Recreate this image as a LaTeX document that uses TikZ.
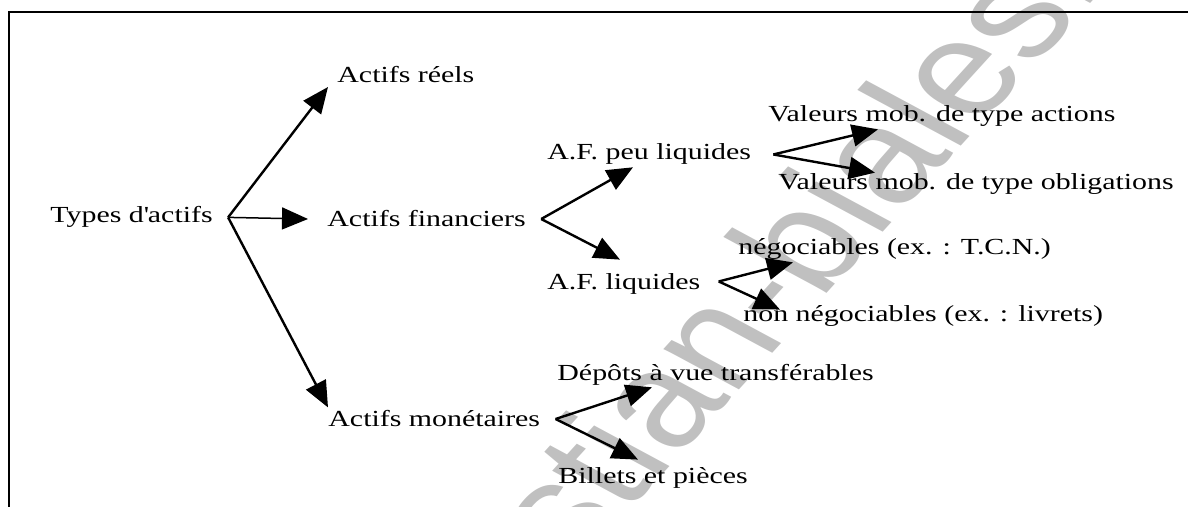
\documentclass[tikz,border=0pt]{standalone}
\usepackage{fontspec}
\setmainfont[FakeStretch=1.3]{Liberation Serif}
\newfontfamily\markfont{Liberation Sans}
\usetikzlibrary{arrows.meta, positioning}
\definecolor{markgray}{RGB}{192, 192, 192}

\begin{document}
\begin{tikzpicture}[
    x=0.5pt, y=-0.5pt,
    item/.style={
        inner sep=0pt,
        anchor=base west,
        font=\fontsize{11.5}{14}\selectfont
    },
    arrow/.style={
        -{Triangle[length=13pt,width=11pt]},
        line width=1.2pt
    },
    frame/.style={
        line width=1pt
    },
    watermark/.style={
        font=\markfont\fontsize{67}{76}\selectfont,
        text=markgray,
        rotate=55,
        transform shape
    }
]

% Page size
\useasboundingbox (0,0) rectangle (1188,507);

% Watermark (stretched like the rest of the page)
\begin{scope}[xscale=1.3]
    \node[watermark] (mark) at (571,303) {christian-biales.fr};
\end{scope}

% Frame
\draw[frame] (9,507) -- (9,12) -- (1188,12);

% First level
\node[item] (types) at (50,223) {Types d\textquotesingle actifs};
\node[item] (reels) at (337,83) {Actifs réels};
\node[item] (financiers) at (327,227) {Actifs financiers};
\node[item] (monetaires) at (328,427) {Actifs monétaires};

% Second level
\node[item] (peu) at (547,160) {A.F. peu liquides};
\node[item] (liquides) at (547,290) {A.F. liquides};
\node[item] (depots) at (557,380) {Dépôts à vue transférables};
\node[item] (billets) at (558,483) {Billets et pièces};

% Third level
\node[item] (actions) at (768,122) {Valeurs mob. de type actions};
\node[item] (obligations) at (778,190) {Valeurs mob. de type obligations};
\node[item] (nego) at (738,255) {négociables (ex. : T.C.N.)};
\node[item] (nonnego) at (743,322) {non négociables (ex. : livrets)};

% Forks
\coordinate (typesfork) at ([xshift=7.5pt]types.east);
\coordinate (finfork) at ([xshift=7.5pt]financiers.east);
\coordinate (peufork) at ([xshift=11pt]peu.east);
\coordinate (liqfork) at ([xshift=9pt,yshift=1.5pt]liquides.east);
\coordinate (monfork) at ([xshift=7.5pt]monetaires.east);

% Connections
\draw[arrow] (typesfork) -- ([xshift=-4.5pt,yshift=-2pt]reels.base west);
\draw[arrow, line width=0.75pt] (typesfork) -- ([xshift=-9.5pt]financiers.west);
\draw[arrow] (typesfork) -- ([yshift=1.5pt]monetaires.north west);
\draw[arrow] (finfork) -- ([xshift=43pt,yshift=-1pt]peu.south west);
\draw[arrow] (finfork) -- ([xshift=36.5pt,yshift=7pt]liquides.north west);
\draw[arrow] (peufork) -- ([xshift=55pt,yshift=-1pt]actions.south west);
\draw[arrow] (peufork) -- ([xshift=48.5pt,yshift=0.5pt]obligations.north west);
\draw[arrow] (liqfork) -- ([xshift=27.5pt,yshift=-1pt]nego.south west);
\draw[arrow] (liqfork) -- ([xshift=18.5pt,yshift=-2pt]nonnego.north west);
\draw[arrow] (monfork) -- ([xshift=47.5pt,yshift=-1pt]depots.south west);
\draw[arrow] (monfork) -- ([xshift=40pt,yshift=3.5pt]billets.north west);

\end{tikzpicture}
\end{document}
